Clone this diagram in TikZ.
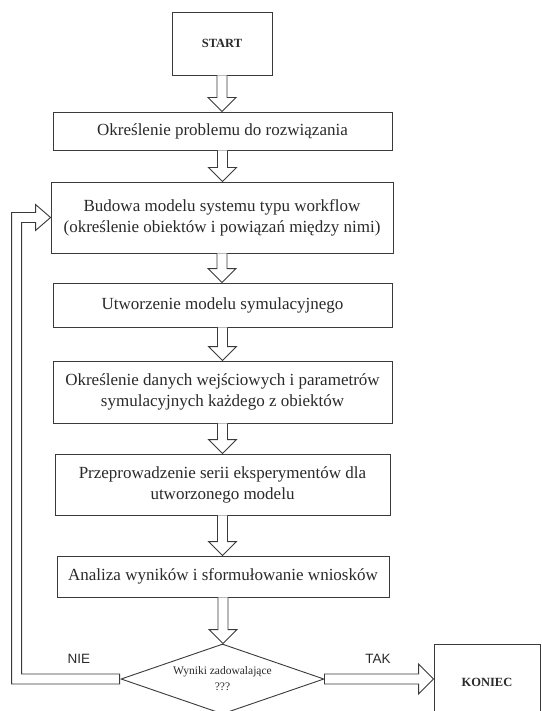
\documentclass[tikz,border=0pt]{standalone}
\usepackage{fontspec}
\setmainfont{Liberation Serif}
\newfontfamily\lsans{Liberation Sans}
\usetikzlibrary{shapes.geometric,calc}
\definecolor{linec}{HTML}{3A3A3A}
\definecolor{textc}{HTML}{2A2A2A}
\tikzset{
  box/.style={draw=linec, line width=0.9pt, inner sep=0pt, align=center,
    text=textc, font=\fontsize{17}{21}\selectfont},
  hol/.style={draw=linec, line width=0.9pt, fill=white},
  lab/.style={text=textc, font=\lsans\fontsize{13.5}{16}\selectfont, inner sep=0pt},
}
\newcommand{\hdown}[2]{%
  \draw[hol] let \p1=(#1.south), \p2=(#2.north) in
    (\x1-5pt,\y1) -- (\x1-5pt,\y2+14pt) -- (\x1-14pt,\y2+14pt) -- (\x1,\y2)
    -- (\x1+14pt,\y2+14pt) -- (\x1+5pt,\y2+14pt) -- (\x1+5pt,\y1);}
\begin{document}
\begin{tikzpicture}[x=1pt,y=-1pt]
\clip (0,0) rectangle (541,711);
\fill[white] (0,0) rectangle (541,711);

\node[box, minimum width=100pt, minimum height=63pt,
  font=\bfseries\fontsize{12.5}{15}\selectfont] (start) at (222,43.5) {START};
\node[box, minimum width=339pt, minimum height=38pt] (b1) at (222.5,131)
  {Określenie problemu do rozwiązania};
\node[box, minimum width=342pt, minimum height=71pt] (b2) at (222,217.5)
  {Budowa modelu systemu typu workflow\\(określenie obiektów i powiązań między nimi)};
\node[box, minimum width=339pt, minimum height=44pt] (b3) at (222.5,305)
  {Utworzenie modelu symulacyjnego};
\node[box, minimum width=339pt, minimum height=62pt] (b4) at (222.5,392)
  {Określenie danych wejściowych i parametrów\\symulacyjnych każdego z obiektów};
\node[box, minimum width=335pt, minimum height=61pt] (b5) at (222.5,484.5)
  {Przeprowadzenie serii eksperymentów dla\\utworzonego modelu};
\node[box, minimum width=332pt, minimum height=41pt] (b6) at (223,576.5)
  {Analiza wyników i sformułowanie wniosków};
\node[box, diamond, shape aspect=2.9, minimum width=203pt, minimum height=70pt,
  font=\fontsize{11.5}{16}\selectfont] (dec) at (222.5,679)
  {Wyniki zadowalające\\???};
\node[box, minimum width=106pt, minimum height=76pt,
  font=\bfseries\fontsize{12.5}{15}\selectfont] (kon) at (487,682) {KONIEC};

\node[lab] (nie) at (79,659) {NIE};
\node[lab] (tak) at (378,659) {TAK};

\hdown{start}{b1}
\hdown{b1}{b2}
\hdown{b2}{b3}
\hdown{b3}{b4}
\hdown{b4}{b5}
\hdown{b5}{b6}
\hdown{b6}{dec}

\draw[hol] let \p1=(dec.east), \p2=(kon.west) in
  (\x1,\y1+5pt) -- (\x2-15pt,\y1+5pt) -- (\x2-15pt,\y1+15pt) -- (\x2,\y1)
  -- (\x2-15pt,\y1-15pt) -- (\x2-15pt,\y1-5pt) -- (\x1,\y1-5pt) -- cycle;

\draw[hol] let \p1=(dec.west), \p2=(b2.west) in
  (\x1-1pt,\y1+5pt) -- (\x2-29pt,\y1+5pt) -- (\x2-29pt,\y2-5pt)
  -- (\x2-15pt,\y2-5pt) -- (\x2-15pt,\y2-13pt) -- (\x2,\y2)
  -- (\x2-15pt,\y2+13pt) -- (\x2-15pt,\y2+5pt) -- (\x2-39pt,\y2+5pt)
  -- (\x2-39pt,\y1-5pt) -- (\x1-1pt,\y1-5pt) -- cycle;
\end{tikzpicture}
\end{document}
